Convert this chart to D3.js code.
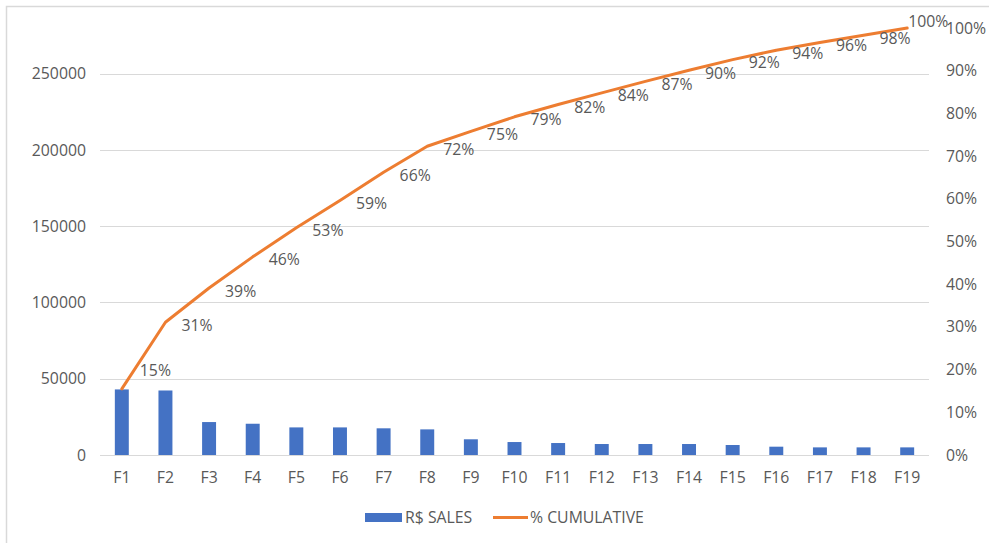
<!DOCTYPE html>
<html>
<head>
<meta charset="utf-8">
<script src="https://cdn.jsdelivr.net/npm/d3@7"></script>
<style>
  html, body { margin: 0; padding: 0; background: #fff; }
  svg { display: block; }
  text { font-family: "Open Sans", "Noto Sans", sans-serif; fill: #595959; }
</style>
</head>
<body>
<svg id="chart" width="989" height="543"></svg>
<script>
// ---- data ----
const categories = ["F1","F2","F3","F4","F5","F6","F7","F8","F9","F10","F11","F12","F13","F14","F15","F16","F17","F18","F19"];
const sales = [43000, 42300, 21600, 20500, 18100, 18100, 17500, 16800, 10300, 8500, 7850, 7200, 7200, 7200, 6550, 5450, 5000, 5000, 5000];
const cumulative = [0.155, 0.311, 0.391, 0.464, 0.532, 0.596, 0.662, 0.723, 0.758, 0.792, 0.821, 0.848, 0.875, 0.901, 0.926, 0.948, 0.966, 0.983, 1.0];
const cumulativeLabels = ["15%","31%","39%","46%","53%","59%","66%","72%","75%","79%","82%","84%","87%","90%","92%","94%","96%","98%","100%"];
const leftTicks = [0, 50000, 100000, 150000, 200000, 250000];
const rightTicks = [0, 0.1, 0.2, 0.3, 0.4, 0.5, 0.6, 0.7, 0.8, 0.9, 1.0];
const seriesNames = ["R$ SALES", "% CUMULATIVE"];

// ---- layout ----
const W = 989, H = 543;
const plot = { left: 100, right: 929, top: 28, bottom: 455 };
const blue = "#4472C4", orange = "#ED7D31", grid = "#D9D9D9";
const fs = "15.8px";

const svg = d3.select("#chart");
svg.append("rect").attr("width", W).attr("height", H).attr("fill", "#fff");
// chart border (only top/left visible in frame)
svg.append("rect").attr("x", 6.5).attr("y", 6.5).attr("width", 1200).attr("height", 800)
  .attr("fill", "none").attr("stroke", grid).attr("stroke-width", 1.5);

const x = d3.scaleBand().domain(categories).range([plot.left, plot.right])
  .paddingInner(0.68).paddingOuter(0.34);
const yL = d3.scaleLinear().domain([0, 280000]).range([plot.bottom, plot.top]);
const yR = d3.scaleLinear().domain([0, 1]).range([plot.bottom, plot.top]);

// gridlines
svg.append("g").selectAll("line").data(leftTicks).join("line")
  .attr("x1", plot.left).attr("x2", plot.right)
  .attr("y1", d => Math.round(yL(d)) + 0.5).attr("y2", d => Math.round(yL(d)) + 0.5)
  .attr("stroke", grid).attr("stroke-width", 1);

// left axis
const axL = svg.append("g").attr("transform", `translate(${plot.left},0)`)
  .call(d3.axisLeft(yL).tickValues(leftTicks).tickSize(0).tickPadding(14).tickFormat(d3.format("d")));
axL.select(".domain").remove();
axL.selectAll("text").style("font-size", fs).style("font-family", null).attr("fill", "#595959");

// right axis
const axR = svg.append("g").attr("transform", `translate(${plot.right},0)`)
  .call(d3.axisRight(yR).tickValues(rightTicks).tickSize(0).tickPadding(17).tickFormat(d3.format(".0%")));
axR.select(".domain").remove();
axR.selectAll("text").style("font-size", fs).style("font-family", null).attr("fill", "#595959");

// bottom axis
const axB = svg.append("g").attr("transform", `translate(0,${plot.bottom})`)
  .call(d3.axisBottom(x).tickSize(0).tickPadding(17));
axB.select(".domain").remove();
axB.selectAll("text").style("font-size", fs).style("font-family", null).attr("fill", "#595959");

// bars
svg.append("g").selectAll("rect").data(sales).join("rect")
  .attr("x", (d, i) => x(categories[i]))
  .attr("width", x.bandwidth())
  .attr("y", d => yL(d))
  .attr("height", d => yL(0) - yL(d))
  .attr("fill", blue);

// line
const line = d3.line()
  .x((d, i) => x(categories[i]) + x.bandwidth() / 2)
  .y(d => yR(d));
svg.append("path").datum(cumulative)
  .attr("d", line).attr("fill", "none").attr("stroke", orange)
  .attr("stroke-width", 3).attr("stroke-linejoin", "round").attr("stroke-linecap", "round");

// data labels
const n = categories.length;
svg.append("g").selectAll("text").data(cumulative).join("text")
  .attr("x", (d, i) => {
    const cx = x(categories[i]) + x.bandwidth() / 2;
    if (i === n - 1) return cx + 1;
    if (i === 0) return cx + 18;
    return cx + 16;
  })
  .attr("y", (d, i) => {
    const cy = yR(d);
    if (i === n - 1) return cy - 7;
    if (i === 0) return cy - 18;
    return cy + 3;
  })
  .attr("dy", "0.35em")
  .style("font-size", fs)
  .text((d, i) => cumulativeLabels[i]);

// legend
const lg = svg.append("g");
lg.append("rect").attr("x", 365).attr("y", 513).attr("width", 37).attr("height", 9).attr("fill", blue);
lg.append("text").attr("x", 405).attr("y", 517.5).attr("dy", "0.35em").style("font-size", fs).text(seriesNames[0]);
lg.append("line").attr("x1", 493).attr("x2", 528).attr("y1", 517.5).attr("y2", 517.5)
  .attr("stroke", orange).attr("stroke-width", 3);
lg.append("text").attr("x", 530).attr("y", 517.5).attr("dy", "0.35em").style("font-size", fs).text(seriesNames[1]);
</script>
</body>
</html>
